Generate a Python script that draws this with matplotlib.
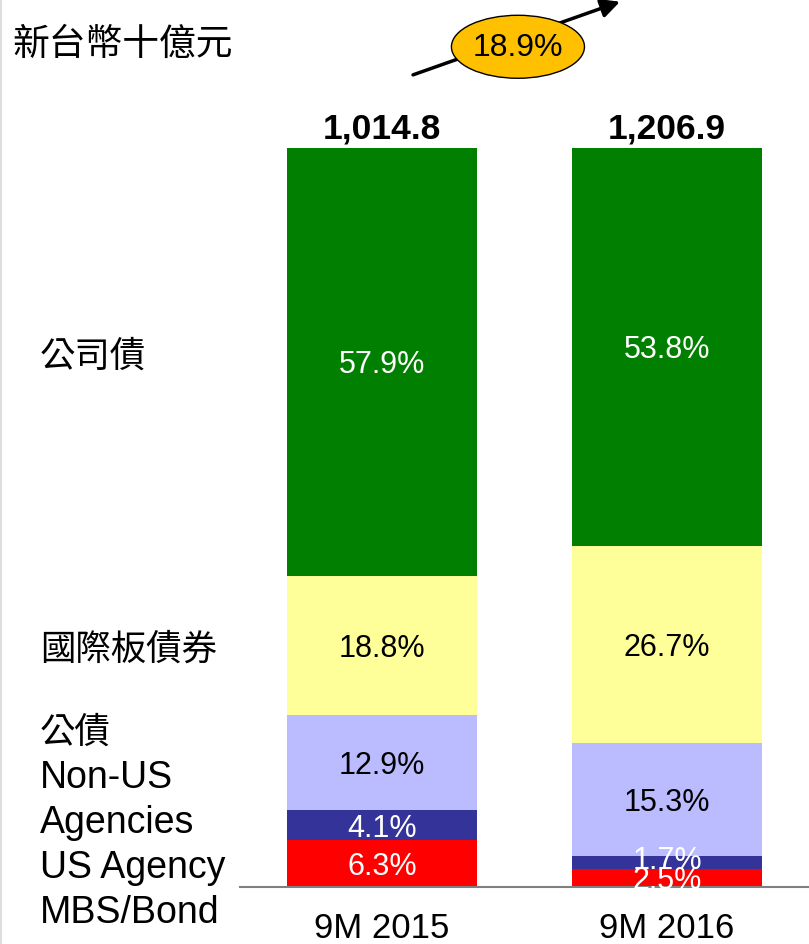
import matplotlib
matplotlib.use("Agg")
import matplotlib.pyplot as plt
from matplotlib.patches import Ellipse
from matplotlib.lines import Line2D

# data
periods = ["9M 2015", "9M 2016"]
totals = [1014.8, 1206.9]
segments = ["US Agency MBS/Bond", "Non-US Agencies", "公債", "國際板債券", "公司債"]
share_2015 = [6.3, 4.1, 12.9, 18.8, 57.9]
share_2016 = [2.5, 1.7, 15.3, 26.7, 53.8]
unit_label = "新台幣十億元"

colors = ["#FF0000", "#333399", "#BBBBFF", "#FFFF99", "#007F00"]
text_colors = ["white", "white", "black", "black", "white"]

W, H = 809, 944
CJK = ["Noto Sans CJK TC", "DejaVu Sans"]
LAT = ["Liberation Sans", "DejaVu Sans"]

fig = plt.figure(figsize=(W / 100, H / 100), dpi=100)
ax = fig.add_axes([240 / W, 1 - 887 / H, 1 - 240 / W, 887 / H])

x = [0, 1]
bar_w = 190 / 285
bottoms = [0.0, 0.0]
for i, seg in enumerate(segments):
    vals = [share_2015[i], share_2016[i]]
    ax.bar(x, vals, bar_w, bottom=bottoms, color=colors[i], edgecolor="none", zorder=2)
    for j in range(2):
        # thin slices: the label sits a little higher, as in the source
        dy = 1.0 if vals[j] < 2 else -2.5
        ax.annotate(f"{vals[j]:.1f}%", (x[j], bottoms[j] + vals[j] / 2),
                    xytext=(0, dy), textcoords="offset points",
                    ha="center", va="center", color=text_colors[i], fontsize=22,
                    family=LAT, zorder=3)
    bottoms = [bottoms[0] + vals[0], bottoms[1] + vals[1]]

# totals above bars
for j in range(2):
    ax.text(x[j], bottoms[j] + 2.6, f"{totals[j]:,.1f}", ha="center", va="center",
            fontsize=25.5, fontweight="bold", family=LAT)

ax.set_xlim(-0.498, 1.498)
ax.set_ylim(0, 120.03)
ax.set_xticks(x)
ax.set_xticklabels(periods, fontsize=25, family=LAT)
ax.tick_params(axis="x", length=0, pad=18)
ax.set_yticks([])
for s in ["top", "right", "left"]:
    ax.spines[s].set_visible(False)
ax.spines["bottom"].set_color("#808080")
ax.spines["bottom"].set_linewidth(1.5)

# growth arrow + ellipse
growth = (totals[1] / totals[0] - 1) * 100
ax.annotate("", xy=(0.835, 119.8), xytext=(0.109, 109.9), annotation_clip=False,
            arrowprops=dict(arrowstyle="-|>", lw=2.5, color="black", mutation_scale=28,
                            shrinkA=0, shrinkB=0),
            zorder=4)
ax.add_patch(Ellipse((0.477, 113.7), 133 / 285, 63 / 7.39, facecolor="#FFC000",
                     edgecolor="black", lw=1, clip_on=False, zorder=5))
ax.text(0.477, 113.5, f"{growth:.1f}%", ha="center", va="center", fontsize=23,
        family=LAT, zorder=6)

# left side labels
fig.text(12 / W, 1 - 44 / H, unit_label, ha="left", va="center", fontsize=26.5,
         family=CJK, fontweight="light")
side = [("公司債", 357, CJK), ("國際板債券", 650, CJK), ("公債", 733, CJK),
        ("Non-US", 778, LAT), ("Agencies", 823, LAT), ("US Agency", 868, LAT),
        ("MBS/Bond", 913, LAT)]
for txt, py, fam in side:
    if fam is CJK:
        fig.text(40 / W, 1 - py / H, txt, ha="left", va="center", fontsize=25.5,
                 family=fam, fontweight="light")
    else:
        fig.text(40 / W, 1 - py / H, txt, ha="left", va="center", fontsize=27, family=fam)

fig.add_artist(Line2D([1 / W, 1 / W], [0, 1], color="#DDDDDD", lw=1.5))

fig.savefig("out.png", dpi=100)
